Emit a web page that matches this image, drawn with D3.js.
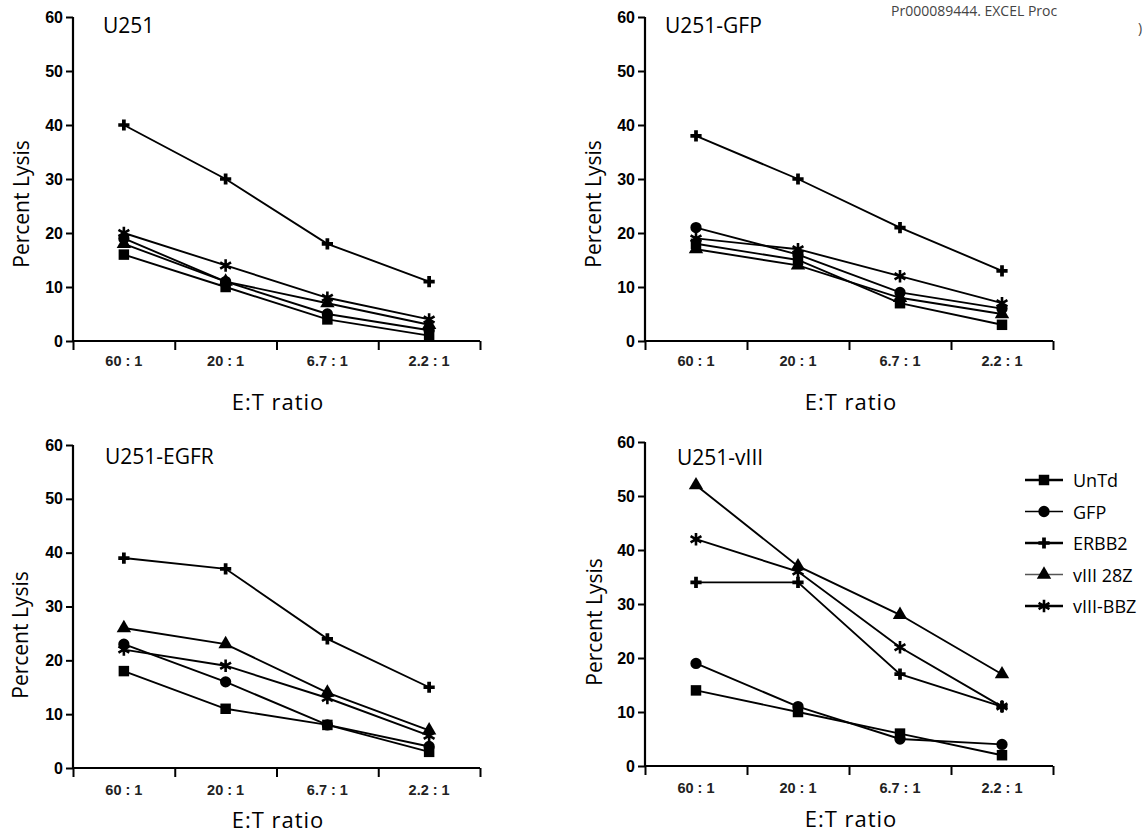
<!DOCTYPE html>
<html><head><meta charset="utf-8">
<script src="https://cdn.jsdelivr.net/npm/d3@7"></script>
<style>body{margin:0;background:#fff}svg{display:block}</style>
</head><body>
<svg id="c" width="1148" height="833"></svg>
<script>
const categories = ["60 : 1", "20 : 1", "6.7 : 1", "2.2 : 1"];
const seriesNames = ["UnTd", "GFP", "ERBB2", "vIII 28Z", "vIII-BBZ"];
const yTicks = [0, 10, 20, 30, 40, 50, 60];
const panelTitles = ["U251", "U251-GFP", "U251-EGFR", "U251-vIII"];

// values per panel, one array per series (UnTd, GFP, ERBB2, vIII 28Z, vIII-BBZ)
const u251_UnTd = [16, 10, 4, 1];
const u251_GFP = [19, 11, 5, 2];
const u251_ERBB2 = [40, 30, 18, 11];
const u251_28Z = [18, 11, 7, 3];
const u251_BBZ = [20, 14, 8, 4];

const gfp_UnTd = [18, 15, 7, 3];
const gfp_GFP = [21, 16, 9, 6];
const gfp_ERBB2 = [38, 30, 21, 13];
const gfp_28Z = [17, 14, 8, 5];
const gfp_BBZ = [19, 17, 12, 7];

const egfr_UnTd = [18, 11, 8, 3];
const egfr_GFP = [23, 16, 8, 4];
const egfr_ERBB2 = [39, 37, 24, 15];
const egfr_28Z = [26, 23, 14, 7];
const egfr_BBZ = [22, 19, 13, 6];

const viii_UnTd = [14, 10, 6, 2];
const viii_GFP = [19, 11, 5, 4];
const viii_ERBB2 = [34, 34, 17, 11];
const viii_28Z = [52, 37, 28, 17];
const viii_BBZ = [42, 36, 22, 11];

const panelData = [
  [u251_UnTd, u251_GFP, u251_ERBB2, u251_28Z, u251_BBZ],
  [gfp_UnTd, gfp_GFP, gfp_ERBB2, gfp_28Z, gfp_BBZ],
  [egfr_UnTd, egfr_GFP, egfr_ERBB2, egfr_28Z, egfr_BBZ],
  [viii_UnTd, viii_GFP, viii_ERBB2, viii_28Z, viii_BBZ]
];

const svg = d3.select("#c");
const FONT = "'Open Sans', 'DejaVu Sans', sans-serif";
const TICKFONT = "'Liberation Sans', Arial, sans-serif";

// layout of panels
const layout = [
  {x0: 73, x1: 480, top: 17, bottom: 341, title: [103, 33], xlab: [278, 410], ylab: [21, 204], tickY: 366},
  {x0: 645, x1: 1053, top: 17, bottom: 341, title: [665, 33], xlab: [851, 410], ylab: [593, 204], tickY: 366},
  {x0: 73, x1: 480, top: 445, bottom: 768, title: [105, 464], xlab: [278, 828], ylab: [20, 635], tickY: 795},
  {x0: 645, x1: 1053, top: 442, bottom: 766, title: [677, 465], xlab: [851, 827], ylab: [594, 622], tickY: 793}
];

const symbolFor = [
  d3.symbol().type(d3.symbolSquare).size(110),
  d3.symbol().type(d3.symbolCircle).size(100),
  d3.symbol().type(d3.symbolCross).size(70),
  d3.symbol().type(d3.symbolTriangle).size(90),
  d3.symbol().type(d3.symbolAsterisk).size(110)
];
function drawMarker(g, si, x, y) {
  const p = g.append("path").attr("d", symbolFor[si]()).attr("transform", `translate(${x},${y})`);
  if (si === 4) p.attr("fill", "none").attr("stroke", "#000").attr("stroke-width", 2.6);
  else p.attr("fill", "#000");
}

layout.forEach((L, pi) => {
  const g = svg.append("g");
  const x = d3.scalePoint().domain(categories).range([L.x0, L.x1]).padding(0.5);
  const xb = d3.scaleLinear().domain([0, categories.length]).range([L.x0, L.x1]);
  const y = d3.scaleLinear().domain([0, 60]).range([L.bottom, L.top]);

  // y axis
  const ya = g.append("g").attr("transform", `translate(${L.x0},0)`)
    .call(d3.axisLeft(y).tickValues(yTicks).tickSize(7).tickPadding(3));
  ya.select(".domain").attr("stroke-width", 2.2).attr("d", `M0,${L.bottom}V${L.top}`);
  ya.selectAll(".tick line").attr("stroke-width", 2);
  ya.selectAll(".tick text").attr("font-family", TICKFONT).attr("font-weight", "bold").attr("font-size", 16).attr("fill", "#000");

  // x axis: boundary ticks
  const xa = g.append("g").attr("transform", `translate(0,${L.bottom})`)
    .call(d3.axisBottom(xb).tickValues(d3.range(0, categories.length + 1)).tickSize(9).tickFormat(""));
  xa.select(".domain").attr("stroke-width", 2.2).attr("d", `M${L.x0},0H${L.x1}`);
  xa.selectAll(".tick line").attr("stroke-width", 2);
  // category labels
  g.selectAll(".cat").data(categories).join("text")
    .attr("x", d => x(d)).attr("y", L.tickY)
    .attr("text-anchor", "middle").attr("font-family", TICKFONT).attr("font-weight", "bold")
    .attr("font-size", 14.5).attr("fill", "#222").text(d => d);

  // labels
  g.append("text").attr("x", L.title[0]).attr("y", L.title[1]).attr("font-family", FONT)
    .attr("font-size", 21).attr("fill", "#000").text(panelTitles[pi]);
  g.append("text").attr("x", L.xlab[0]).attr("y", L.xlab[1]).attr("text-anchor", "middle")
    .attr("font-family", FONT).attr("font-size", 22).attr("fill", "#000").text("E:T ratio")
    .attr("letter-spacing", 1);
  g.append("text").attr("transform", `translate(${L.ylab[0] + 8},${L.ylab[1]}) rotate(-90)`)
    .attr("text-anchor", "middle").attr("font-family", FONT).attr("font-size", 21).attr("fill", "#000").text("Percent Lysis");

  // series
  const line = d3.line().x((d, i) => x(categories[i])).y(d => y(d));
  panelData[pi].forEach((vals, si) => {
    g.append("path").datum(vals).attr("d", line).attr("fill", "none")
      .attr("stroke", "#000").attr("stroke-width", 1.9);
  });
  panelData[pi].forEach((vals, si) => {
    vals.forEach((v, i) => drawMarker(g, si, x(categories[i]), y(v)));
  });
});

// legend
const lg = svg.append("g");
const legY = d3.scalePoint().domain(seriesNames).range([480, 606]);
seriesNames.forEach((n, si) => {
  const yy = legY(n);
  lg.append("line").attr("x1", 1025).attr("x2", 1063).attr("y1", yy).attr("y2", yy)
    .attr("stroke", si === 3 ? "#555" : "#000").attr("stroke-width", si === 1 || si === 3 ? 1.3 : 2.5);
  drawMarker(lg, si, 1044, yy);
  lg.append("text").attr("x", 1073).attr("y", yy + 7).attr("font-family", FONT)
    .attr("font-size", 18).attr("fill", "#000").text(n);
});

// top-right header fragment
svg.append("text").attr("x", 891).attr("y", 16).attr("font-family", "'Open Sans', sans-serif")
  .attr("font-size", 14).attr("fill", "#444").text("Pr000089444.  EXCEL Proc");
svg.append("text").attr("x", 1138).attr("y", 33).attr("font-family", "'Open Sans', sans-serif")
  .attr("font-size", 14).attr("fill", "#444").text(")");
</script>
</body></html>
